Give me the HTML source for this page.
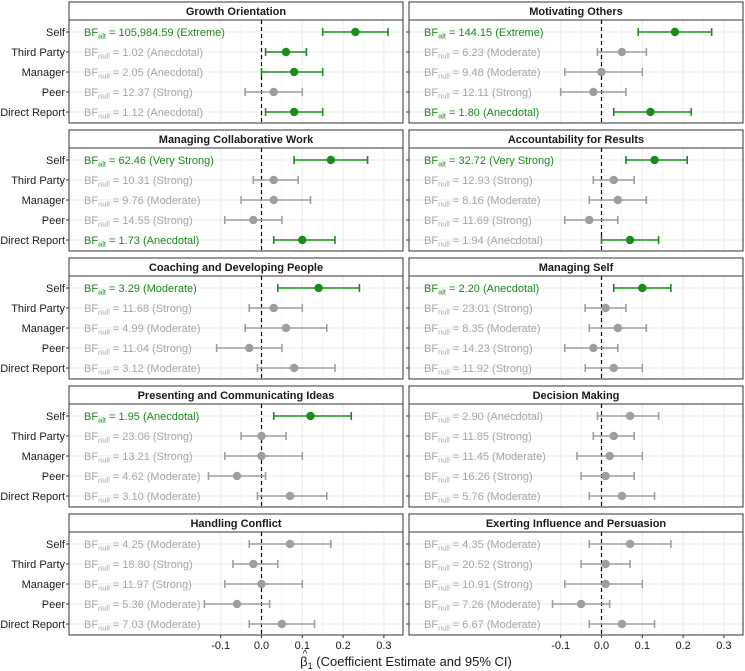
<!DOCTYPE html>
<html><head><meta charset="utf-8"><style>
html,body{margin:0;padding:0;background:#fff;}
svg{display:block;font-family:"Liberation Sans",Arial,sans-serif;}
</style></head><body>
<svg id="chart" width="745" height="671" viewBox="0 0 745 671" xmlns="http://www.w3.org/2000/svg"></svg>
<script>
const facetTitles = ["Growth Orientation","Motivating Others","Managing Collaborative Work","Accountability for Results","Coaching and Developing People","Managing Self","Presenting and Communicating Ideas","Decision Making","Handling Conflict","Exerting Influence and Persuasion"];
const raters = ["Self","Third Party","Manager","Peer","Direct Report"];
const estimates = [
 [0.23,0.06,0.08,0.03,0.08],
 [0.18,0.05,0.00,-0.02,0.12],
 [0.17,0.03,0.03,-0.02,0.10],
 [0.13,0.03,0.04,-0.03,0.07],
 [0.14,0.03,0.06,-0.03,0.08],
 [0.10,0.01,0.04,-0.02,0.03],
 [0.12,0.00,0.00,-0.06,0.07],
 [0.07,0.03,0.02,0.01,0.05],
 [0.07,-0.02,0.00,-0.06,0.05],
 [0.07,0.01,0.01,-0.05,0.05]];
const ciLow = [
 [0.15,0.01,0.00,-0.04,0.01],
 [0.09,-0.01,-0.09,-0.10,0.03],
 [0.08,-0.02,-0.05,-0.09,0.03],
 [0.06,-0.02,-0.03,-0.09,0.00],
 [0.04,-0.03,-0.04,-0.11,-0.01],
 [0.03,-0.04,-0.03,-0.09,-0.04],
 [0.03,-0.05,-0.09,-0.13,-0.01],
 [-0.01,-0.02,-0.06,-0.05,-0.03],
 [-0.03,-0.07,-0.09,-0.14,-0.03],
 [-0.03,-0.05,-0.09,-0.12,-0.03]];
const ciHigh = [
 [0.31,0.11,0.15,0.10,0.15],
 [0.27,0.11,0.10,0.06,0.22],
 [0.26,0.09,0.12,0.05,0.18],
 [0.21,0.08,0.11,0.04,0.14],
 [0.24,0.10,0.16,0.05,0.18],
 [0.17,0.06,0.11,0.04,0.10],
 [0.22,0.06,0.10,0.01,0.16],
 [0.14,0.08,0.10,0.08,0.13],
 [0.17,0.04,0.10,0.02,0.13],
 [0.17,0.07,0.10,0.02,0.13]];
const credible = [
 [1,1,1,0,1],[1,0,0,0,1],[1,0,0,0,1],[1,0,0,0,1],[1,0,0,0,0],
 [1,0,0,0,0],[1,0,0,0,0],[0,0,0,0,0],[0,0,0,0,0],[0,0,0,0,0]];
const bfType = [
 ["alt","null","null","null","null"],["alt","null","null","null","alt"],["alt","null","null","null","alt"],["alt","null","null","null","null"],["alt","null","null","null","null"],
 ["alt","null","null","null","null"],["alt","null","null","null","null"],["null","null","null","null","null"],["null","null","null","null","null"],["null","null","null","null","null"]];
const bfText = [
 ["105,984.59 (Extreme)","1.02 (Anecdotal)","2.05 (Anecdotal)","12.37 (Strong)","1.12 (Anecdotal)"],
 ["144.15 (Extreme)","6.23 (Moderate)","9.48 (Moderate)","12.11 (Strong)","1.80 (Anecdotal)"],
 ["62.46 (Very Strong)","10.31 (Strong)","9.76 (Moderate)","14.55 (Strong)","1.73 (Anecdotal)"],
 ["32.72 (Very Strong)","12.93 (Strong)","8.16 (Moderate)","11.69 (Strong)","1.94 (Anecdotal)"],
 ["3.29 (Moderate)","11.68 (Strong)","4.99 (Moderate)","11.04 (Strong)","3.12 (Moderate)"],
 ["2.20 (Anecdotal)","23.01 (Strong)","8.35 (Moderate)","14.23 (Strong)","11.92 (Strong)"],
 ["1.95 (Anecdotal)","23.06 (Strong)","13.21 (Strong)","4.62 (Moderate)","3.10 (Moderate)"],
 ["2.90 (Anecdotal)","11.85 (Strong)","11.45 (Moderate)","16.26 (Strong)","5.76 (Moderate)"],
 ["4.25 (Moderate)","18.80 (Strong)","11.97 (Strong)","5.36 (Moderate)","7.03 (Moderate)"],
 ["4.35 (Moderate)","20.52 (Strong)","10.91 (Strong)","7.26 (Moderate)","6.67 (Moderate)"]];
const tickValues = [-0.1,0,0.1,0.2,0.3];
const tickLabels = ["-0.1","0.0","0.1","0.2","0.3"];

const NS="http://www.w3.org/2000/svg";
const svg=document.getElementById('chart');
function mk(tag,attrs,parent){const e=document.createElementNS(NS,tag);for(const k in attrs)e.setAttribute(k,attrs[k]);(parent||svg).appendChild(e);return e;}
const GREEN="#1a8c1a", GRAY="#9e9e9e", TGRAY="#a6a6a6";
const colX=[69,409], panelW=334, zeroOff=192.5, pxPerUnit=408;
function xScale(col,v){return colX[col]+zeroOff+v*pxPerUnit;}
function yScale(row,k){return 2+row*128+30+k*20;}

for(let f=0;f<facetTitles.length;f++){
  const col=f%2,row=Math.floor(f/2);
  const x0=colX[col], top=2+row*128;
  const g=mk('g',{});
  
  
  const strip=mk('rect',{x:x0,y:top,width:panelW,height:18,fill:'#fff',stroke:'#333','stroke-width':1},g);
  
  
  const st=mk('text',{x:x0+panelW/2,y:top+13,'text-anchor':'middle','font-size':11,'font-weight':'bold',fill:'#1a1a1a'},g);
  st.textContent=facetTitles[f];
  
  
  const pt=top+18, ph=103;
  for(let m=-0.1;m<=0.301;m+=0.05){
    const gx=xScale(col,m);
    const gl=mk('line',{x1:gx,x2:gx,y1:pt,y2:pt+ph,stroke:'#ebebeb','stroke-width':(Math.abs(Math.round(m*20))%2===0)?1:0.5},g);
    
    
  }
  for(let k=0;k<5;k++){
    const gy=yScale(row,k);
    const hl=mk('line',{x1:x0,x2:x0+panelW,y1:gy,y2:gy,stroke:'#ebebeb','stroke-width':1},g);
    
    
  }
  const zx=xScale(col,0);
  const zl=mk('line',{x1:zx,x2:zx,y1:pt,y2:pt+ph,stroke:'#000','stroke-width':1.2,'stroke-dasharray':'4,3'},g);
  
  
  for(let k=0;k<5;k++){
    const y=yScale(row,k);
    const c=credible[f][k]?GREEN:GRAY;
    const tc=(bfType[f][k]==='alt')?GREEN:TGRAY;
    const lo=xScale(col,ciLow[f][k]), hi=xScale(col,ciHigh[f][k]), px=xScale(col,estimates[f][k]);
    const eb=mk('path',{d:`M${lo},${y-4}V${y+4}M${lo},${y}H${hi}M${hi},${y-4}V${y+4}`,stroke:c,'stroke-width':1.6,fill:'none'},g);
    
    
    const dot=mk('circle',{cx:px,cy:y,r:4.2,fill:c},g);
    
    
    const t=mk('text',{x:x0+15,y:y+4,'font-size':11,fill:tc},g);
    
    
    const a=mk('tspan',{},t);a.textContent='BF';
    const s=mk('tspan',{'font-size':7.5,dy:2.5},t);s.textContent=bfType[f][k];
    const r=mk('tspan',{dy:-2.5},t);r.textContent=(bfType[f][k]==='alt'?'  = ':' = ')+bfText[f][k];
    r.setAttribute('xml:space','preserve');
    if(col===0){
      const yl=mk('text',{x:x0-4,y:y+4,'text-anchor':'end','font-size':11,fill:'#1a1a1a'},g);
      yl.textContent=raters[k];
      
      
    }
    const tk=mk('line',{x1:x0-3,x2:x0,y1:y,y2:y,stroke:'#333'},g);
    
    
  }
  const border=mk('rect',{x:x0,y:pt,width:panelW,height:ph,fill:'none',stroke:'#333','stroke-width':1},g);
  
  
  if(row===4){
    for(let i=0;i<tickValues.length;i++){
      const tx=xScale(col,tickValues[i]);
      const tl=mk('line',{x1:tx,x2:tx,y1:pt+ph,y2:pt+ph+3,stroke:'#333'},g);
      
      
      const tt=mk('text',{x:tx,y:pt+ph+14,'text-anchor':'middle','font-size':11,fill:'#1a1a1a'},g);
      tt.textContent=tickLabels[i];
      
      
    }
  }
}
const at=mk('text',{x:406,y:666,'text-anchor':'middle','font-size':13,fill:'#1a1a1a'});


const b=mk('tspan',{},at);b.textContent='β';
const sb=mk('tspan',{'font-size':9,dy:3},at);sb.textContent='1';
const rest=mk('tspan',{dy:-3},at);rest.textContent=' (Coefficient Estimate and 95% CI)';
const hat=mk('text',{x:305,y:657,'text-anchor':'middle','font-size':10,fill:'#1a1a1a'});
hat.textContent='^';


</script>
</body></html>
